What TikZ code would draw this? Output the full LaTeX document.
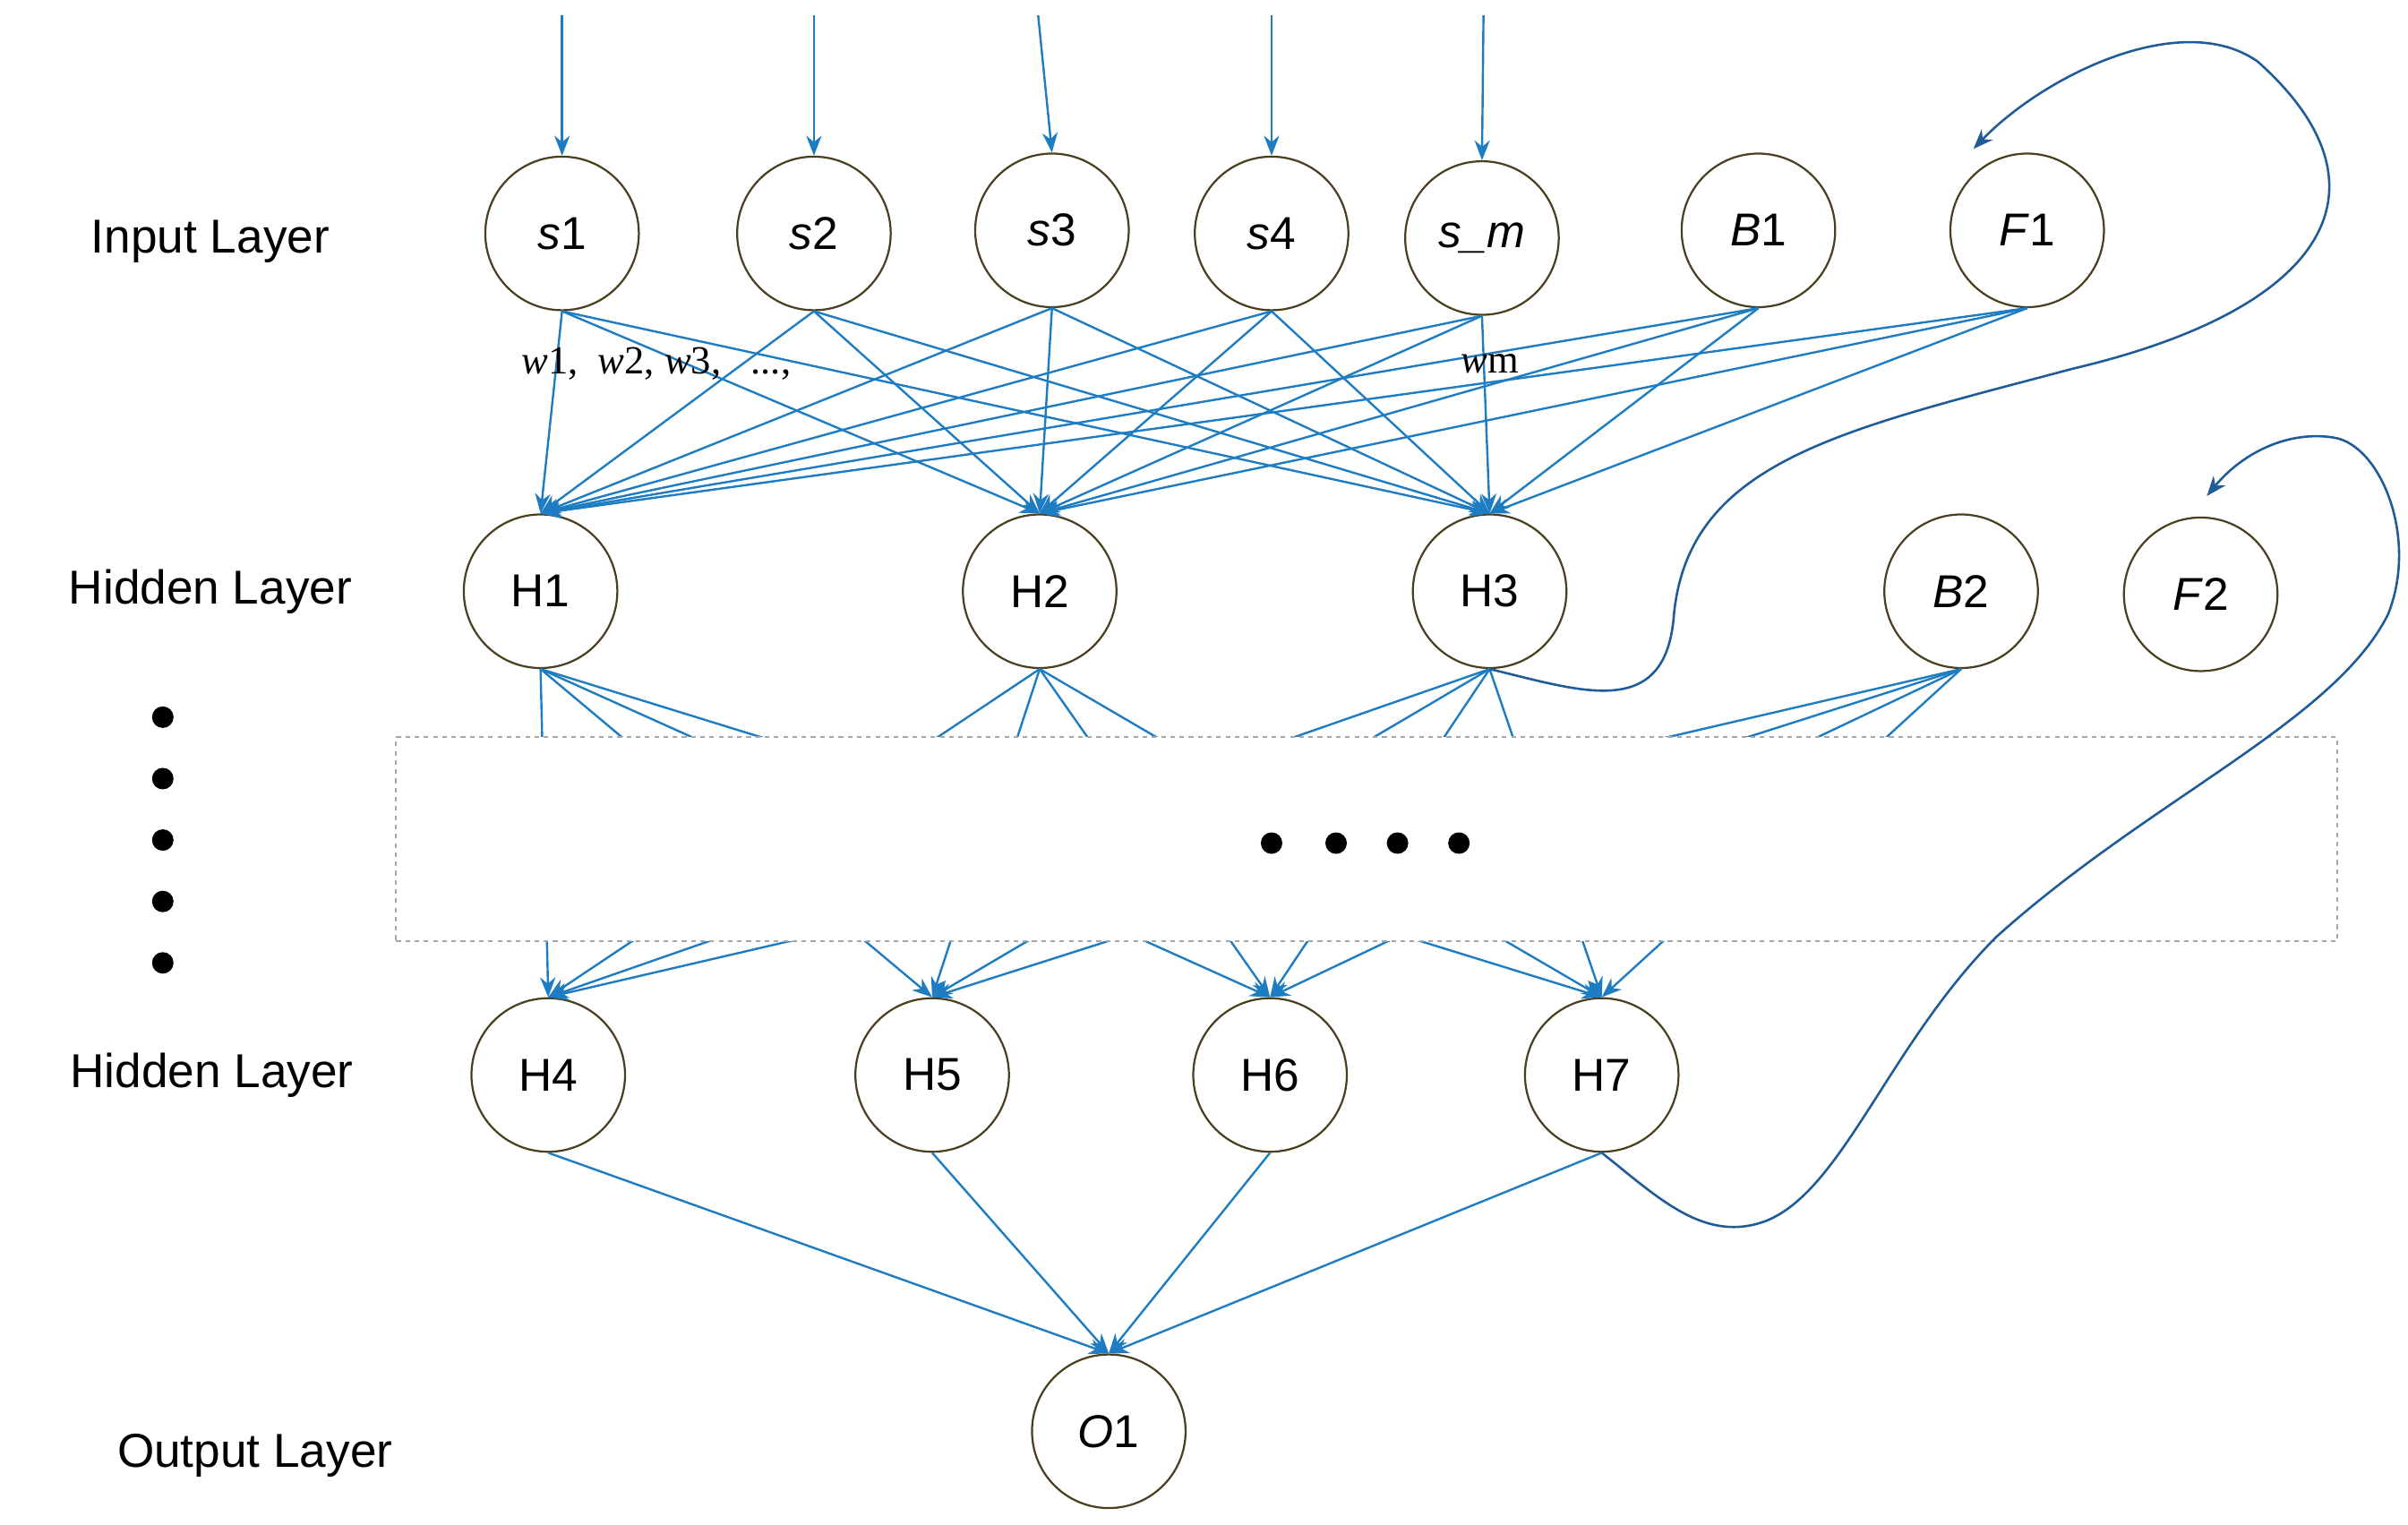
\documentclass[tikz,border=0pt]{standalone}
\usepackage{fontspec}
\setmainfont{Liberation Sans}
\newfontfamily\tms{Liberation Serif}
\usetikzlibrary{arrows.meta}
\definecolor{lb}{HTML}{1E7DC2}
\definecolor{db}{HTML}{1F5C97}
\definecolor{nb}{HTML}{4A3F1F}
\begin{document}
\begin{tikzpicture}[x=1pt,y=-1pt,
  nd/.style={circle,draw=nb,line width=1.3pt,minimum size=100pt,inner sep=0pt,font=\fontsize{30}{30}\selectfont,fill=white},
  ln/.style={draw=lb,line width=1.4pt},
  ar/.style={ln,-{Stealth[length=13pt,width=10pt]}},
  fb/.style={draw=db,line width=1.5pt,-{Stealth[length=13pt,width=10pt]}},
  lab/.style={font=\fontsize{31}{31}\selectfont}]
\useasboundingbox (0,0) rectangle (1568,993);
\node[nd] (s1) at (366,152) {\textit{s}1};
\node[nd] (s2) at (530,152) {\textit{s}2};
\node[nd] (s3) at (685,150) {\textit{s}3};
\node[nd] (s4) at (828,152) {\textit{s}4};
\node[nd] (sm) at (965,155) {\textit{s\_m}};
\node[nd] (B1) at (1145,150) {\textit{B}1};
\node[nd] (F1) at (1320,150) {\textit{F}1};
\node[nd] (H1) at (352,385) {H1};
\node[nd] (H2) at (677,385) {H2};
\node[nd] (H3) at (970,385) {H3};
\node[nd] (B2) at (1277,385) {\textit{B}2};
\node[nd] (F2) at (1433,387) {\textit{F}2};
\node[nd] (H4) at (357,700) {H4};
\node[nd] (H5) at (607,700) {H5};
\node[nd] (H6) at (827,700) {H6};
\node[nd] (H7) at (1043,700) {H7};
\node[nd] (O1) at (722,932) {\textit{O}1};
% input arrows
\foreach \n/\x in {s1/366,s2/530,s3/676,s4/828,sm/966}{
  \coordinate (t\n) at (\x,10);
  \draw[ar] (t\n) -- (\n.north);}
% input to hidden
\foreach \a in {s1,s2,s3,s4,sm,B1,F1}{
  \foreach \b in {H1,H2,H3}{
    \draw[ar] (\a.south) -- (\b.north);}}
% hidden to hidden (through box)
\foreach \a in {H1,H2,H3,B2}{
  \foreach \b in {H4,H5,H6,H7}{
    \draw[ar] (\a.south) -- (\b.north);}}
\node[draw=gray!70,dashed,line width=1.2pt,fill=white,minimum width=1264pt,minimum height=133pt,inner sep=0pt] (box) at (890,546.5) {};
\foreach \x [count=\i] in {828,870,910,950}{\fill (\x,549) circle (7pt) coordinate (c\i);}
\foreach \y [count=\i] in {467,507,547,587,627}{\fill (106,\y) circle (7pt) coordinate (d\i);}
% to output
\foreach \a in {H4,H5,H6,H7}{\draw[ar] (\a.south) -- (O1.north);}
% feedback
\draw[fb] (H3.south) .. controls (1030,450) and (1085,470) .. (1090,400)
  .. controls (1100,300) and (1200,280) .. (1350,240)
  .. controls (1520,200) and (1560,120) .. (1470,40)
  .. controls (1420,5) and (1330,50) .. (1285,97);
\draw[fb] (H7.south) .. controls (1080,780) and (1110,810) .. (1150,795)
  .. controls (1200,775) and (1230,680) .. (1300,610)
  .. controls (1400,520) and (1520,470) .. (1555,400)
  .. controls (1575,350) and (1550,290) .. (1520,285)
  .. controls (1490,280) and (1460,295) .. (1437,323);
% labels
\node[lab] (L1) at (137,157) {Input Layer};
\node[lab] (L2) at (137,385) {Hidden Layer};
\node[lab] (L3) at (138,700) {Hidden Layer};
\node[lab] (L4) at (166,948) {Output Layer};
\node[font=\tms\fontsize{26}{26}\selectfont,anchor=west] (w) at (336,237) {\textit{w}1,\ \ \textit{w}2,\ \textit{w}3,\ \ \ ...,};
\node[font=\tms\fontsize{26}{26}\selectfont] (wm) at (970,237) {\textit{w}m};
\end{tikzpicture}
\end{document}
